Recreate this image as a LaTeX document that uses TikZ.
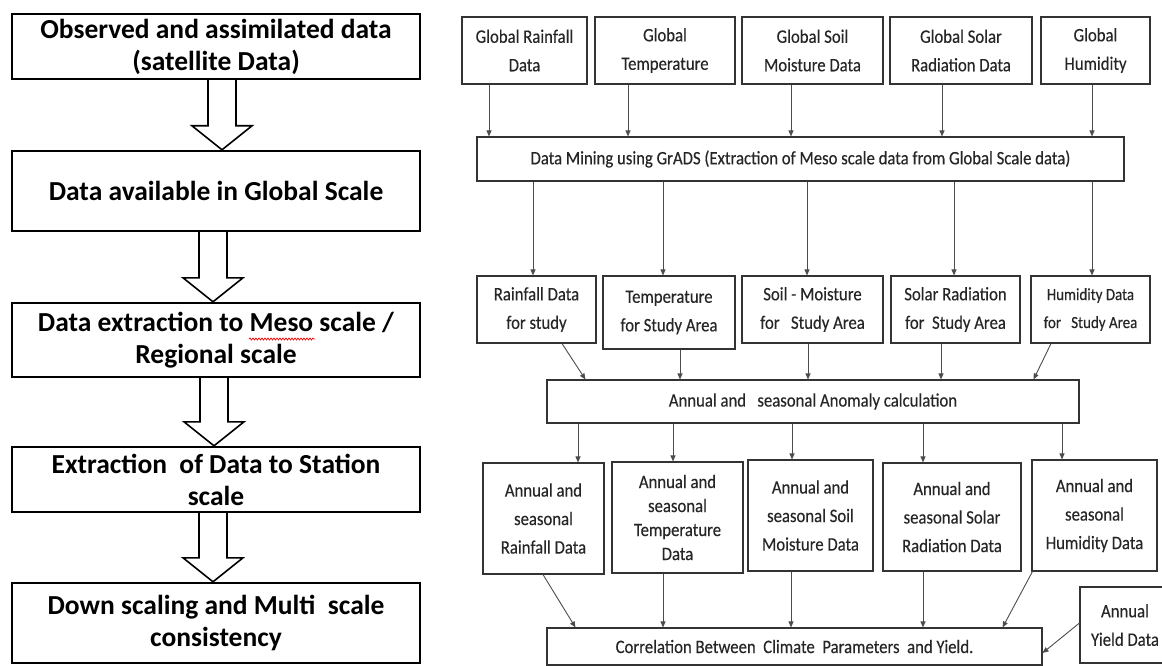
\documentclass[tikz,border=0pt]{standalone}
\usepackage{fontspec}
\newfontfamily\lfont{Carlito}
\newfontfamily\rfont[FakeStretch=0.88,FakeBold=0.3]{Carlito}
\usetikzlibrary{arrows.meta,calc,decorations.pathmorphing}
\newcommand\hollowarrow[3]{%
  \draw[hol] ($(#1.south)+(#3-14,0)$) -- ($(#2.north)+(#3-14,-24)$) -- ($(#2.north)+(#3-30,-24)$)
    -- ($(#2.north)+(#3,0)$) -- ($(#2.north)+(#3+30,-24)$) -- ($(#2.north)+(#3+14,-24)$) -- ($(#1.south)+(#3+14,0)$);}
\begin{document}
\begin{tikzpicture}[x=1pt,y=-1pt,
  lbox/.style={draw=black, line width=2.4pt, align=center, inner sep=0pt, minimum width=408pt,
    font=\lfont\bfseries\fontsize{27.5}{32}\selectfont},
  hol/.style={draw=black, line width=1.6pt, fill=white, line join=miter},
  rbox/.style={draw=black!80, line width=1.1pt, align=center, inner sep=0pt,
    font=\rfont\fontsize{19}{28.5}\selectfont, text=black!85},
  arr/.style={draw=black!70, line width=0.9pt, -{Triangle[length=6pt,width=5pt]}},
  squiggle/.style={draw=red, line width=0.7pt, decorate, decoration={snake, amplitude=1pt, segment length=3pt}}]
\useasboundingbox (0,0) rectangle (1162,666);
% left column
\node[lbox, minimum height=65pt] (b1) at (216,46.5) {Observed and assimilated data\\(satellite Data)};
\node[lbox, minimum height=80pt] (b2) at (216,191) {Data available in Global Scale};
\node[lbox, minimum height=74pt] (b3) at (216,340) {Data extraction to Meso scale /\\Regional scale};
\node[lbox, minimum height=65pt] (b4) at (216,479.5) {Extraction\ \ of Data to Station\\scale};
\node[lbox, minimum height=80pt] (b5) at (216,623) {Down scaling and Multi\ \ scale\\consistency};
\draw[squiggle] ($(b3.center)+(33,-1)$) -- ($(b3.center)+(99,-1)$);
\hollowarrow{b1}{b2}{6}
\hollowarrow{b2}{b3}{-3}
\hollowarrow{b3}{b4}{-2}
\hollowarrow{b4}{b5}{-3}
% right: top row
\node[rbox, minimum width=125pt, minimum height=67pt] (gA) at (524.5,50.5) {Global Rainfall\\Data};
\node[rbox, minimum width=140pt, minimum height=67pt] (gB) at (665,50.5) {Global\\Temperature};
\node[rbox, minimum width=141pt, minimum height=67pt] (gC) at (812.5,50.5) {Global Soil\\Moisture Data};
\node[rbox, minimum width=142pt, minimum height=67pt] (gD) at (961,50.5) {Global Solar\\Radiation Data};
\node[rbox, minimum width=109pt, minimum height=67pt] (gE) at (1095.5,50.5) {Global\\Humidity};
\node[rbox, minimum width=647pt, minimum height=44pt] (mine) at (800.5,159) {Data Mining using GrADS (Extraction of Meso scale data from Global Scale data)};
\draw[arr] ([xshift=-35.5pt]gA.south) -- ([xshift=-35.5pt]gA.south |- mine.north);
\draw[arr] ([xshift=-37pt]gB.south) -- ([xshift=-37pt]gB.south |- mine.north);
\draw[arr] ([xshift=-21.5pt]gC.south) -- ([xshift=-21.5pt]gC.south |- mine.north);
\draw[arr] ([xshift=-19pt]gD.south) -- ([xshift=-19pt]gD.south |- mine.north);
\draw[arr] ([xshift=-3.5pt]gE.south) -- ([xshift=-3.5pt]gE.south |- mine.north);
% row 2
\node[rbox, minimum width=119pt, minimum height=67pt] (rA) at (536.5,309.5) {Rainfall Data\\for study};
\node[rbox, minimum width=132pt, minimum height=73pt] (rB) at (669,312.5) {Temperature\\for Study Area};
\node[rbox, minimum width=141pt, minimum height=67pt] (rC) at (812.5,309.5) {Soil - Moisture\\for\ \ \ Study Area};
\node[rbox, minimum width=129pt, minimum height=67pt] (rD) at (955.5,309.5) {Solar Radiation\\for\ \ Study Area};
\node[rbox, minimum width=119pt, minimum height=67pt, font=\rfont\fontsize{17}{28}\selectfont] (rE) at (1090.5,309.5) {Humidity Data\\for\ \ \ Study Area};
\draw[arr] ([xshift=-3.5pt]rA.north |- mine.south) -- ([xshift=-3.5pt]rA.north);
\draw[arr] ([xshift=-6pt]rB.north |- mine.south) -- ([xshift=-6pt]rB.north);
\draw[arr] ([xshift=-5.5pt]rC.north |- mine.south) -- ([xshift=-5.5pt]rC.north);
\draw[arr] ([xshift=-1.5pt]rD.north |- mine.south) -- ([xshift=-1.5pt]rD.north);
\draw[arr] ([xshift=1.5pt]rE.north |- mine.south) -- ([xshift=1.5pt]rE.north);
% anomaly
\node[rbox, minimum width=532pt, minimum height=43pt] (anom) at (813,401.5) {Annual and\ \ \ seasonal Anomaly calculation};
\draw[arr] ([xshift=25.5pt]rA.south) -- ($(anom.north west)+(39,0)$);
\draw[arr] ([xshift=11pt]rB.south) -- ([xshift=11pt]rB.south |- anom.north);
\draw[arr] ([xshift=-4.5pt]rC.south) -- ([xshift=-4.5pt]rC.south |- anom.north);
\draw[arr] ([xshift=-14.5pt]rD.south) -- ([xshift=-14.5pt]rD.south |- anom.north);
\draw[arr] ([xshift=-39.5pt]rE.south) -- ($(anom.north east)+(-46,0)$);
% row 3
\node[rbox, minimum width=121pt, minimum height=111pt] (sA) at (543.5,518.5) {Annual and\\seasonal\\Rainfall Data};
\node[rbox, minimum width=131pt, minimum height=111pt, font=\rfont\fontsize{19}{24}\selectfont] (sB) at (677.5,517.5) {Annual and\\seasonal\\Temperature\\Data};
\node[rbox, minimum width=125pt, minimum height=111pt] (sC) at (810.5,515.5) {Annual and\\seasonal Soil\\Moisture Data};
\node[rbox, minimum width=138pt, minimum height=108pt] (sD) at (952,517) {Annual and\\seasonal Solar\\Radiation Data};
\node[rbox, minimum width=125pt, minimum height=111pt] (sE) at (1094.5,515.5) {Annual and\\seasonal\\Humidity Data};
\draw[arr] ([xshift=34.5pt]sA.north |- anom.south) -- ([xshift=34.5pt]sA.north);
\draw[arr] ([xshift=-4.5pt]sB.north |- anom.south) -- ([xshift=-4.5pt]sB.north);
\draw[arr] ([xshift=-18.5pt]sC.north |- anom.south) -- ([xshift=-18.5pt]sC.north);
\draw[arr] ([xshift=-29pt]sD.north |- anom.south) -- ([xshift=-29pt]sD.north);
\draw[arr] ([xshift=-32.5pt]sE.north |- anom.south) -- ([xshift=-32.5pt]sE.north);
% correlation
\node[rbox, minimum width=495pt, minimum height=37pt] (corr) at (794.5,646.5) {Correlation Between\ \ Climate\ \ Parameters\ \ and Yield.};
\node[rbox, minimum width=90pt, minimum height=76pt] (yld) at (1125,625) {Annual\\Yield Data};
\draw[arr] ([xshift=-0.5pt]sA.south) -- ($(corr.north west)+(29,0)$);
\draw[arr] ([xshift=-14.5pt]sB.south) -- ([xshift=-14.5pt]sB.south |- corr.north);
\draw[arr] ([xshift=-19.5pt]sC.south) -- ([xshift=-19.5pt]sC.south |- corr.north);
\draw[arr] ([xshift=-29pt]sD.south) -- ([xshift=-29pt]sD.south |- corr.north);
\draw[arr] ($(sE.south west)+(1,0)$) -- ($(corr.north east)+(-40,0)$);
\draw[arr] ($(yld.west)+(0,-2)$) -- ($(corr.east)+(0,6.5)$);
\end{tikzpicture}
\end{document}
